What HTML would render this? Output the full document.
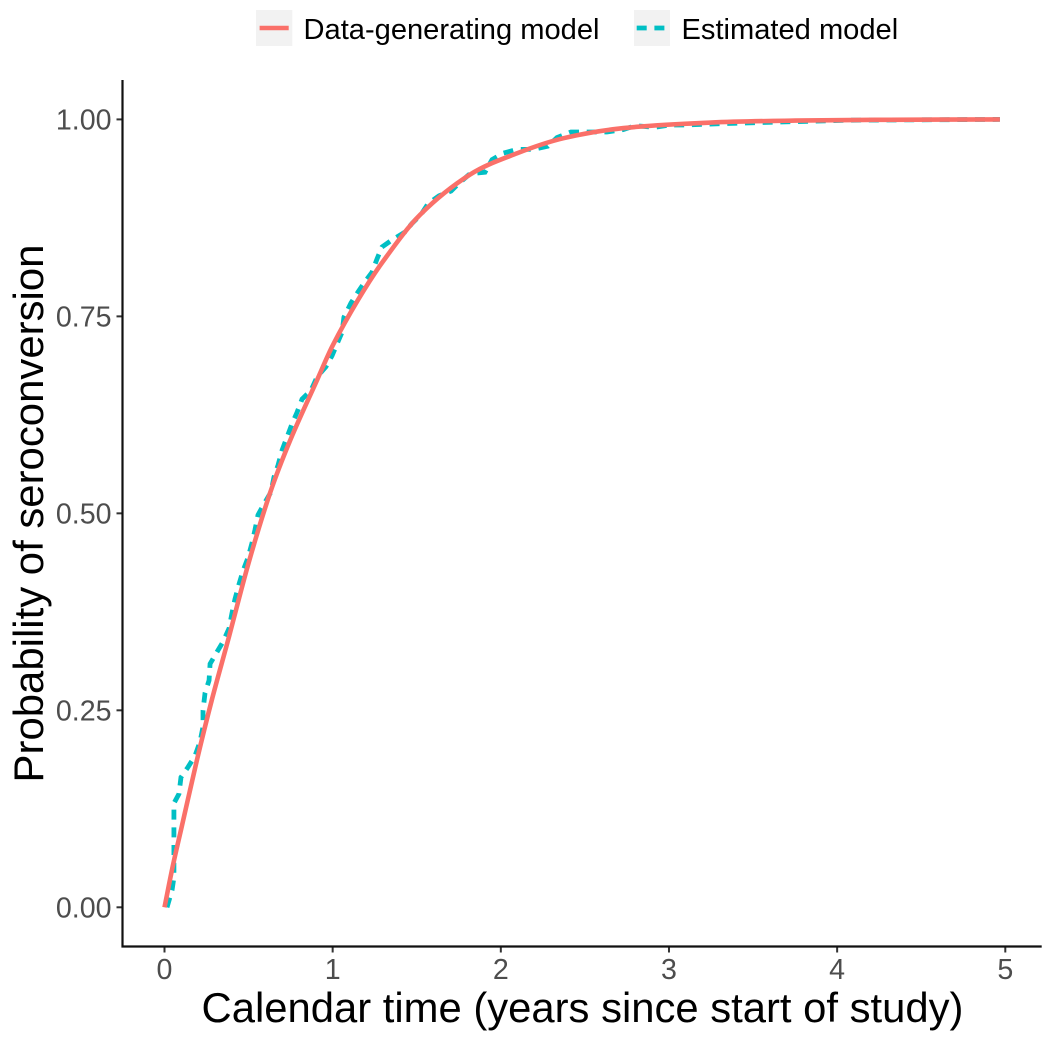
<!DOCTYPE html>
<html lang="en">
<head>
<meta charset="utf-8">
<title>Probability of seroconversion</title>
<style>
html,body{margin:0;padding:0;background:#fff;}
svg{display:block;font-family:"Liberation Sans",Arial,sans-serif;}
</style>
</head>
<body>
<svg id="chart" width="1050" height="1039" viewBox="0 0 1050 1039" xmlns="http://www.w3.org/2000/svg">
  <rect x="0" y="0" width="1050" height="1039" fill="#ffffff"/>
  <g id="ticks"></g>
  <g id="series"></g>
  <line x1="122.5" y1="80" x2="122.5" y2="947.5" stroke="#111" stroke-width="2.2"/>
  <line x1="121.5" y1="946.5" x2="1041.7" y2="946.5" stroke="#111" stroke-width="2.2"/>
  <text x="582.5" y="1022" font-size="41.8" text-anchor="middle" fill="#000">Calendar time (years since start of study)</text>
  <text transform="translate(43,513.5) rotate(-90)" font-size="41.9" text-anchor="middle" fill="#000">Probability of seroconversion</text>
  <g>
    <g>
      <rect x="256" y="10" width="36.3" height="36" fill="#f2f2f2"/>
      <line x1="259.6" y1="28" x2="288.7" y2="28" stroke="#fa7069" stroke-width="4.6"/>
      <text x="303.5" y="39" font-size="29.1" fill="#000">Data-generating model</text>
    </g>
    <g>
      <rect x="634" y="10" width="36" height="36" fill="#f2f2f2"/>
      <line x1="636.7" y1="28" x2="664.4" y2="28" stroke="#00bfc4" stroke-width="4.8" stroke-dasharray="10 7.7"/>
      <text x="681.5" y="39" font-size="29.1" fill="#000">Estimated model</text>
    </g>
  </g>
</svg>
<script>
var xTickValues = [0, 1, 2, 3, 4, 5];
var xTickLabels = ["0", "1", "2", "3", "4", "5"];
var yTickValues = [0, 0.25, 0.5, 0.75, 1];
var yTickLabels = ["0.00", "0.25", "0.50", "0.75", "1.00"];

var modelTimes = [0, 0.05, 0.1, 0.193, 0.28, 0.378, 0.5, 0.628, 0.75, 0.907, 1.0, 1.151, 1.3, 1.52, 1.817, 2.097, 2.37, 2.73, 3.25, 3.75, 4.3, 4.968];
var modelProbs = [0, 0.053, 0.1, 0.187, 0.262, 0.339, 0.437, 0.526, 0.594, 0.669, 0.713, 0.771, 0.82, 0.879, 0.93, 0.957, 0.976, 0.989, 0.996, 0.9985, 0.9995, 1];

var estimatedTimes = [0.015, 0.045, 0.056, 0.056, 0.086, 0.098, 0.14, 0.181, 0.211, 0.229, 0.229, 0.241, 0.265, 0.271, 0.312, 0.348, 0.384, 0.401, 0.419, 0.443, 0.467, 0.497, 0.52, 0.538, 0.556, 0.592, 0.633, 0.651, 0.675, 0.699, 0.729, 0.759, 0.788, 0.818, 0.871, 0.907, 0.96, 0.996, 1.026, 1.056, 1.067, 1.109, 1.151, 1.192, 1.234, 1.264, 1.293, 1.353, 1.43, 1.472, 1.525, 1.567, 1.632, 1.704, 1.751, 1.817, 1.906, 1.948, 2.013, 2.096, 2.197, 2.28, 2.334, 2.417, 2.512, 2.631, 2.727, 2.798, 2.917, 3.006, 3.113, 3.226, 3.54, 4.08, 4.968];
var estimatedProbs = [0, 0.022, 0.038, 0.132, 0.144, 0.165, 0.178, 0.192, 0.21, 0.229, 0.25, 0.272, 0.288, 0.309, 0.324, 0.337, 0.354, 0.373, 0.391, 0.41, 0.427, 0.444, 0.462, 0.479, 0.498, 0.512, 0.527, 0.546, 0.561, 0.58, 0.597, 0.614, 0.628, 0.645, 0.656, 0.673, 0.686, 0.7, 0.715, 0.73, 0.749, 0.767, 0.781, 0.794, 0.806, 0.823, 0.838, 0.847, 0.857, 0.868, 0.879, 0.893, 0.903, 0.909, 0.919, 0.931, 0.933, 0.949, 0.957, 0.962, 0.962, 0.966, 0.977, 0.984, 0.984, 0.984, 0.987, 0.992, 0.99, 0.993, 0.993, 0.994, 0.996, 0.999, 1];

var SVG_NS = "http://www.w3.org/2000/svg";
function xScale(t) { return 164.5 + t * 168.16; }
function yScale(p) { return 907.3 - p * 787.9; }

function pathFrom(times, probs) {
  var d = "";
  for (var i = 0; i < times.length; i++) {
    d += (i ? " L" : "M") + xScale(times[i]).toFixed(2) + " " + yScale(probs[i]).toFixed(2);
  }
  return d;
}

function smoothPathFrom(times, probs) {
  var n = times.length;
  var xs = times.map(xScale);
  var ys = probs.map(yScale);
  var d = "M" + xs[0].toFixed(2) + " " + ys[0].toFixed(2);
  for (var i = 0; i < n - 1; i++) {
    var a = Math.max(i - 1, 0);
    var b = Math.min(i + 2, n - 1);
    var h = xs[i + 1] - xs[i];
    var m0 = (ys[i + 1] - ys[a]) / (xs[i + 1] - xs[a]);
    var m1 = (ys[b] - ys[i]) / (xs[b] - xs[i]);
    d += " C" + (xs[i] + h / 3).toFixed(2) + " " + (ys[i] + m0 * h / 3).toFixed(2) +
         " " + (xs[i + 1] - h / 3).toFixed(2) + " " + (ys[i + 1] - m1 * h / 3).toFixed(2) +
         " " + xs[i + 1].toFixed(2) + " " + ys[i + 1].toFixed(2);
  }
  return d;
}

var tickGroup = document.getElementById("ticks");
xTickValues.forEach(function (v, i) {
  var line = document.createElementNS(SVG_NS, "line");
  
  
  line.setAttribute("x1", xScale(v));
  line.setAttribute("x2", xScale(v));
  line.setAttribute("y1", 946.5);
  line.setAttribute("y2", 952.5);
  line.setAttribute("stroke", "#333");
  line.setAttribute("stroke-width", 2);
  tickGroup.appendChild(line);
  var label = document.createElementNS(SVG_NS, "text");
  
  
  label.setAttribute("x", xScale(v));
  label.setAttribute("y", 979);
  label.setAttribute("font-size", 28.6);
  label.setAttribute("text-anchor", "middle");
  label.setAttribute("fill", "#4d4d4d");
  label.textContent = xTickLabels[i];
  tickGroup.appendChild(label);
});
yTickValues.forEach(function (v, i) {
  var line = document.createElementNS(SVG_NS, "line");
  
  
  line.setAttribute("x1", 116.5);
  line.setAttribute("x2", 122.5);
  line.setAttribute("y1", yScale(v));
  line.setAttribute("y2", yScale(v));
  line.setAttribute("stroke", "#333");
  line.setAttribute("stroke-width", 2);
  tickGroup.appendChild(line);
  var label = document.createElementNS(SVG_NS, "text");
  
  
  label.setAttribute("x", 111.5);
  label.setAttribute("y", yScale(v) + 10.2);
  label.setAttribute("font-size", 28.6);
  label.setAttribute("text-anchor", "end");
  label.setAttribute("fill", "#4d4d4d");
  label.textContent = yTickLabels[i];
  tickGroup.appendChild(label);
});

var seriesGroup = document.getElementById("series");
var estimatedPath = document.createElementNS(SVG_NS, "path");


estimatedPath.setAttribute("d", pathFrom(estimatedTimes, estimatedProbs));
estimatedPath.setAttribute("fill", "none");
estimatedPath.setAttribute("stroke", "#00bfc4");
estimatedPath.setAttribute("stroke-width", 4.8);
estimatedPath.setAttribute("stroke-dasharray", "10 7.7");
seriesGroup.appendChild(estimatedPath);

var modelPath = document.createElementNS(SVG_NS, "path");


modelPath.setAttribute("d", smoothPathFrom(modelTimes, modelProbs));
modelPath.setAttribute("fill", "none");
modelPath.setAttribute("stroke", "#fa7069");
modelPath.setAttribute("stroke-width", 4.6);
modelPath.setAttribute("stroke-linejoin", "round");
seriesGroup.appendChild(modelPath);
</script>
</body>
</html>
